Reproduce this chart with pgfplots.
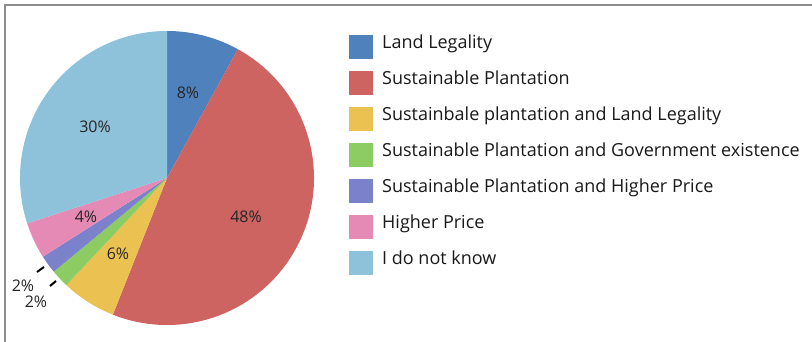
\documentclass[border=0pt]{standalone}
\usepackage{pgfplots}
\pgfplotsset{compat=1.18}
\usepackage{fontspec}
\setmainfont{Open Sans}
\definecolor{cLand}{HTML}{4F81BD}
\definecolor{cSust}{HTML}{CD6462}
\definecolor{cSustLand}{HTML}{EBC152}
\definecolor{cSustGov}{HTML}{8DCB63}
\definecolor{cSustPrice}{HTML}{7B82CB}
\definecolor{cPrice}{HTML}{E58AB4}
\definecolor{cDont}{HTML}{8EC1DA}
\definecolor{frame}{HTML}{8C8C8C}
% shares in percent, clockwise from 12 o'clock
\def\pA{8}\def\pB{48}\def\pC{6}\def\pD{2}\def\pE{2}\def\pF{4}\def\pG{30}
\pgfmathsetmacro{\aA}{90}
\pgfmathsetmacro{\aB}{\aA-3.6*\pA}
\pgfmathsetmacro{\aC}{\aB-3.6*\pB}
\pgfmathsetmacro{\aD}{\aC-3.6*\pC}
\pgfmathsetmacro{\aE}{\aD-3.6*\pD}
\pgfmathsetmacro{\aF}{\aE-3.6*\pE}
\pgfmathsetmacro{\aG}{\aF-3.6*\pF}
\pgfmathsetmacro{\aH}{\aG-3.6*\pG}
\def\cx{167}\def\cy{164}\def\R{147}
\newcommand{\slice}[3]{\fill[#3] (axis cs:\cx,\cy) -- ++(#1:\R pt) arc[start angle=#1, end angle=#2, radius=\R pt] -- cycle;}
\begin{document}
\begin{tikzpicture}
\begin{axis}[
  width=812pt, height=342pt, scale only axis,
  xmin=0, xmax=812, ymin=0, ymax=342,
  hide axis, clip=false,
]
\draw[frame, line width=1.6pt] (axis cs:5,0) -- (axis cs:5,337) -- (axis cs:812,337);
\slice{\aA}{\aB}{cLand}
\slice{\aB}{\aC}{cSust}
\slice{\aC}{\aD}{cSustLand}
\slice{\aD}{\aE}{cSustGov}
\slice{\aE}{\aF}{cSustPrice}
\slice{\aF}{\aG}{cPrice}
\slice{\aG}{\aH}{cDont}
% slice labels
\begin{scope}[every node/.style={font=\fontsize{16}{18}\selectfont, text=black!85}]
\node at (axis cs:188,249) {8\%};
\node at (axis cs:246,125) {48\%};
\node at (axis cs:118,88) {6\%};
\node at (axis cs:86,125) {4\%};
\node at (axis cs:95,215) {30\%};
\node at (axis cs:23,56) {2\%};
\node at (axis cs:36,40) {2\%};
\end{scope}
\draw[black, line width=2pt] (axis cs:37,70) -- (axis cs:44,75);
\draw[black, line width=2pt] (axis cs:50,56) -- (axis cs:56,61);
% legend
\begin{scope}[every node/.style={font=\fontsize{18}{21}\selectfont, anchor=base west, inner sep=0pt, text=black!90}]
\foreach \k/\c/\t in {0/cLand/Land Legality,
  1/cSust/Sustainable Plantation,
  2/cSustLand/Sustainbale plantation and Land Legality,
  3/cSustGov/Sustainable Plantation and Government existence,
  4/cSustPrice/Sustainable Plantation and Higher Price,
  5/cPrice/Higher Price,
  6/cDont/I do not know}{
  \edef\temp{\noexpand\fill[\c] (axis cs:349,{283.3-36*\k}) rectangle (axis cs:373,{307.3-36*\k});
  \noexpand\node at (axis cs:382,{293.7-36*\k}) {\t};}
  \temp
}
\end{scope}
\end{axis}
\pgfresetboundingbox
\path[use as bounding box] (0,0) rectangle (812pt,342pt);
\end{tikzpicture}
\end{document}
